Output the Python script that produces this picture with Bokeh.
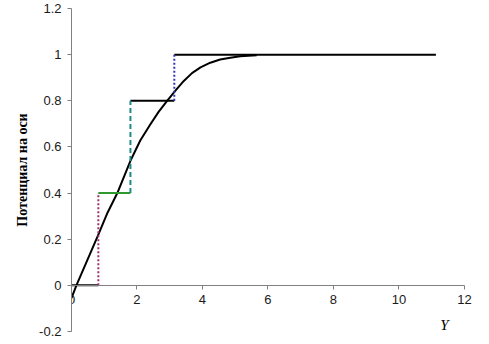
from bokeh.plotting import figure
from bokeh.models import Range1d, FixedTicker, PrintfTickFormatter, Label
from bokeh.embed import file_html
from bokeh.resources import INLINE

# Smooth potential curve
curve_x = [0.0, 0.15, 0.5, 0.82, 1.1, 1.4, 1.8, 2.1, 2.41, 2.66, 2.92, 3.18,
           3.43, 3.68, 3.94, 4.24, 4.54, 4.85, 5.15, 5.66]
curve_y = [-0.055, 0.0, 0.115, 0.22, 0.315, 0.40, 0.54, 0.628, 0.698, 0.752,
           0.800, 0.845, 0.886, 0.920, 0.945, 0.965, 0.979, 0.987, 0.993, 0.997]

# Step approximation
step_edges = [0.0, 0.82, 1.8, 3.14, 11.13]
step_levels = [0.0, 0.4, 0.8, 1.0]
step_colors = ["#000000", "#2e9a2e", "#000000", "#000000"]
riser_colors = ["#a0306a", "#1a8a8a", "#3535b0"]
riser_dashes = ["2 2", "5 3", "2 2"]

x_ticks = [0, 2, 4, 6, 8, 10, 12]
y_ticks = [-0.2, 0, 0.2, 0.4, 0.6, 0.8, 1.0, 1.2]

p = figure(width=480, height=340, output_backend="svg", toolbar_location=None,
           x_range=Range1d(0, 12.4), y_range=Range1d(-0.2, 1.2),
           min_border_left=71, min_border_right=3, min_border_top=8,
           min_border_bottom=9)
p.outline_line_color = None
p.grid.visible = False
p.background_fill_color = "white"
p.border_fill_color = "white"

# Curve
p.line(curve_x, curve_y, line_color="black", line_width=2, line_join="round")

# Horizontal steps
for i, lvl in enumerate(step_levels):
    p.line([step_edges[i], step_edges[i + 1]], [lvl, lvl],
           line_color=step_colors[i], line_width=2)

# Vertical risers
for i in range(len(step_levels) - 1):
    xe = step_edges[i + 1]
    p.line([xe, xe], [step_levels[i], step_levels[i + 1]],
           line_color=riser_colors[i], line_width=2, line_dash=riser_dashes[i])

# Axes
for ax in (p.xaxis[0], p.yaxis[0]):
    ax.axis_line_color = "#808080"
    ax.major_tick_line_color = "#808080"
    ax.major_tick_out = 4
    ax.major_tick_in = 0
    ax.minor_tick_line_color = None
    ax.major_label_text_font = "Liberation Sans"
    ax.major_label_text_font_size = "13px"
    ax.major_label_text_color = "#1a1a1a"
    ax.formatter = PrintfTickFormatter(format="%g")

p.xaxis[0].ticker = FixedTicker(ticks=x_ticks)
p.xaxis[0].bounds = (0, 12)
p.yaxis[0].ticker = FixedTicker(ticks=y_ticks)
p.xaxis[0].fixed_location = 0
p.xaxis[0].major_label_standoff = 6
p.yaxis[0].major_label_standoff = 6

p.yaxis[0].axis_label = "Потенциал на оси"
p.yaxis[0].axis_label_text_font = "Liberation Serif"
p.yaxis[0].axis_label_text_font_style = "bold"
p.yaxis[0].axis_label_text_font_size = "14px"
p.yaxis[0].axis_label_text_color = "black"
p.yaxis[0].axis_label_standoff = 6

p.add_layout(Label(x=11.39, y=-0.173, text="Y", text_font="Liberation Serif",
                   text_font_style="italic", text_font_size="15px",
                   text_align="center", text_baseline="middle",
                   text_color="black"))

open("out.html", "w").write(file_html(p, INLINE))
